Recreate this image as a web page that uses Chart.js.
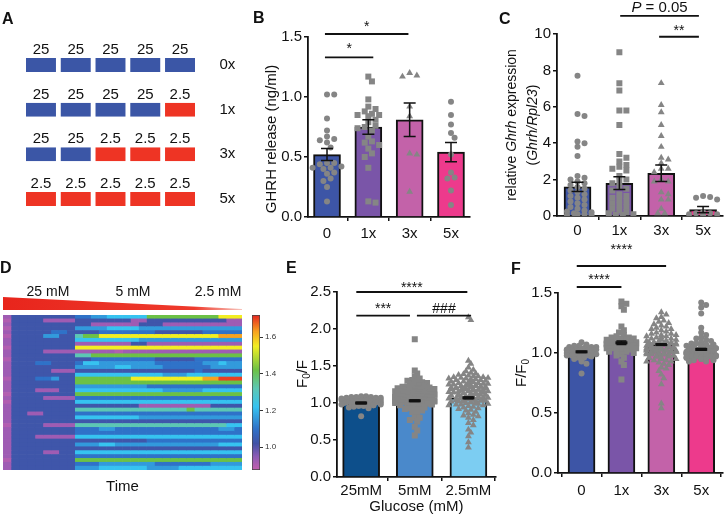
<!DOCTYPE html>
<html>
<head>
<meta charset="utf-8">
<title>GHRH figure</title>
<script src="https://cdn.jsdelivr.net/npm/chart.js@4.4.1/dist/chart.umd.min.js"></script>
<style>
  body { margin: 0; width: 727px; height: 519px; position: relative; overflow: hidden; background: #fff;
         font-family: "Liberation Sans", Arial, sans-serif; }
  canvas { position: absolute; }
  .tag { position: absolute; font-size: 16px; line-height: 16px; font-weight: bold; color: #111; }
</style>
</head>
<body>
<canvas id="chartA" width="240" height="260" style="left:0;top:0"></canvas>
<canvas id="chartB" width="240" height="260" style="left:240px;top:0"></canvas>
<canvas id="chartC" width="247" height="242" style="left:480px;top:0"></canvas>
<canvas id="chartD" width="245" height="259" style="left:0;top:260px"></canvas>
<canvas id="chartDbar" width="50" height="190" style="left:240px;top:300px"></canvas>
<canvas id="chartE" width="240" height="259" style="left:260px;top:260px"></canvas>
<canvas id="chartF" width="227" height="279" style="left:500px;top:240px"></canvas>
<div class="tag" style="left:2px;top:11px">A</div>
<div class="tag" style="left:253px;top:10px">B</div>
<div class="tag" style="left:499px;top:11px">C</div>
<div class="tag" style="left:0;top:260px">D</div>
<div class="tag" style="left:286px;top:260px">E</div>
<div class="tag" style="left:511px;top:261px">F</div>
<script>
// ---- data ----
const aRows = ['0x', '1x', '3x', '5x'];
const aPulses = [
  [25, 25, 25, 25, 25],
  [25, 25, 25, 25, 2.5],
  [25, 25, 2.5, 2.5, 2.5],
  [2.5, 2.5, 2.5, 2.5, 2.5]
];

const pulseCats = ['0', '1x', '3x', '5x'];

// B: GHRH release (ng/ml)
const bMeans = [0.52, 0.75, 0.81, 0.54];
const bSem = [0.05, 0.06, 0.14, 0.08];
const b0 = [1.02, 1.02, 0.82, 0.72, 0.67, 0.65, 0.64, 0.62, 0.58, 0.45, 0.45, 0.44, 0.42, 0.41, 0.41, 0.40, 0.37, 0.36, 0.32, 0.30, 0.25, 0.13];
const b1 = [1.17, 1.13, 0.98, 0.92, 0.90, 0.88, 0.86, 0.85, 0.85, 0.84, 0.81, 0.79, 0.76, 0.75, 0.74, 0.72, 0.67, 0.63, 0.62, 0.60, 0.57, 0.53, 0.50, 0.41, 0.13, 0.12];
const b3 = [1.20, 1.18, 1.17, 0.92, 0.84, 0.53, 0.52, 0.21];
const b5 = [0.96, 0.85, 0.77, 0.70, 0.66, 0.52, 0.37, 0.33, 0.32, 0.22, 0.10];

// C: relative Ghrh expression
const cMeans = [1.6, 1.8, 2.35, 0.35];
const cSem = [0.25, 0.35, 0.45, 0.17];
const c0 = [7.7, 5.6, 5.5, 4.1, 4.0, 3.8, 3.3, 2.2, 2.1, 2.0, 1.9, 1.8, 1.7, 1.6, 1.5, 1.4, 1.3, 1.2, 1.1, 1.0, 0.9, 0.8, 0.7, 0.6, 0.5, 0.4, 0.3, 0.25, 0.2, 0.15, 0.1, 0.1, 0.05, 0.05];
const c1 = [9.0, 7.3, 6.9, 5.8, 5.8, 5.0, 3.4, 3.2, 3.0, 2.8, 2.7, 2.6, 2.5, 2.2, 2.0, 1.9, 1.8, 1.6, 1.5, 1.4, 1.2, 1.1, 1.0, 0.9, 0.8, 0.7, 0.6, 0.5, 0.4, 0.3, 0.2, 0.15, 0.1, 0.05, 0.05];
const c3 = [7.3, 6.1, 5.7, 5.0, 4.4, 3.8, 3.2, 3.1, 2.9, 2.6, 2.6, 2.4, 2.0, 1.9, 1.9, 1.3, 1.2, 0.9, 0.9, 0.4, 0.15, 0.15];
const c5 = [1.1, 1.05, 1.0, 0.9, 0.2, 0.15, 0.15, 0.1, 0.1, 0.05];

// D: calcium heat map, one run-length coded string per cell, 30 time bins
const heatRows = [
  'v1d8b2l2c5g9y3', 'p1d4v4d7v2d10v2', 'v1d10v6d3v10', 'p1d8l4c4l13', 'v1d5b2d4b7d6b5',
  'p1d4l2d2t1g2y15o3', 'v1d8c8l13', 'v1d8v7d2v12', 'p1d8y21', 'v1d4v9p1v15',
  'v1d8t2g19', 'p1d10b8d5b6', 'v1d3b2d3b1c2l7b6l2c1l2', 'v1d8l5c2l4b6l4', 'v1d5v3d15b1d5',
  'v1d8c11l3c7', 'p1d3b2l1d2g7y9o2r3', 'v1d8g21', 'v1d8l9b12', 'v1d3v3d2c11l5c5',
  'p1d8g21', 'v1d4v4b21', 'p1d8c21', 'v1d16v9d4', 'v1d8t14g1t6',
  'v1d2v2d4b21', 'v1d8c8l13', 'v1d29', 'p1d4v4t19c2', 'v1d8b3l2b13l2b1',
  'v1d8b21', 'v1d3v5c21', 'v1d17b12', 'v1d8l3c2l13c3', 'v1d29',
  'v1d4v2d2c21', 'v1d8b21', 'p1d8g21', 'v1d8b3l7b7l4', 'v1d8l3c6l4c8'
];
const heatLevels = { p: 0.90, v: 0.925, d: 1.03, b: 1.10, l: 1.16, c: 1.22, t: 1.32, g: 1.42, y: 1.55, o: 1.63, r: 1.70 };
const heatRange = [0.876, 1.72];
const colorbarTicks = [1.0, 1.2, 1.4, 1.6];
const heatPhases = ['25 mM', '5 mM', '2.5 mM'];

// E: F0/F by glucose
const eCats = ['25mM', '5mM', '2.5mM'];
const eMeans = [1.0, 1.03, 1.07];
const eSem = [0.01, 0.01, 0.012];
const e25 = [1.09, 1.09, 1.08, 1.08, 1.08, 1.07, 1.07, 1.07, 1.06, 1.06, 1.06, 1.06, 1.05, 1.05, 1.05, 1.05, 1.04, 1.04, 1.04, 1.04,
  1.03, 1.03, 1.03, 1.03, 1.02, 1.02, 1.02, 1.02, 1.01, 1.01, 1.01, 1.01, 1.00, 1.00, 1.00, 1.00, 0.99, 0.99, 0.99, 0.98,
  0.98, 0.98, 0.97, 0.97, 0.96, 0.96, 0.95, 0.94, 0.93, 0.82];
const e5 = [1.86, 1.44, 1.40, 1.36, 1.33, 1.31, 1.30, 1.29, 1.28, 1.27, 1.26, 1.25,
  1.24, 1.23, 1.22, 1.22, 1.21, 1.21, 1.20, 1.20, 1.19, 1.19, 1.18, 1.18, 1.17, 1.17, 1.17, 1.16, 1.16, 1.16,
  1.15, 1.15, 1.15, 1.14, 1.14, 1.14, 1.13, 1.13, 1.13, 1.12, 1.12, 1.12, 1.12, 1.11, 1.11, 1.11, 1.11,
  1.10, 1.10, 1.10, 1.10, 1.09, 1.09, 1.09, 1.09, 1.08, 1.08, 1.08, 1.08, 1.07, 1.07, 1.07, 1.07,
  1.06, 1.06, 1.06, 1.06, 1.05, 1.05, 1.05, 1.05, 1.04, 1.04, 1.04, 1.04, 1.03, 1.03, 1.03, 1.03,
  1.02, 1.02, 1.02, 1.02, 1.01, 1.01, 1.01, 1.00, 1.00, 1.00, 0.99, 0.99, 0.99, 0.98, 0.98, 0.97, 0.97,
  0.96, 0.95, 0.94, 0.93, 0.92, 0.91, 0.90, 0.88, 0.85, 0.80, 0.80, 0.77, 0.75, 0.68, 0.63, 0.56];
const e25b = [2.16, 2.12, 1.57, 1.53, 1.48, 1.45, 1.43, 1.41,
  1.40, 1.39, 1.38, 1.37, 1.36, 1.36, 1.35, 1.35, 1.34, 1.34, 1.33, 1.33, 1.32, 1.32, 1.31, 1.31, 1.30, 1.30,
  1.29, 1.29, 1.28, 1.28, 1.27, 1.27, 1.26, 1.26, 1.25, 1.25, 1.25, 1.24, 1.24, 1.24, 1.23, 1.23, 1.23,
  1.22, 1.22, 1.22, 1.21, 1.21, 1.21, 1.20, 1.20, 1.20, 1.19, 1.19, 1.19, 1.18, 1.18, 1.18, 1.17, 1.17, 1.17,
  1.16, 1.16, 1.16, 1.15, 1.15, 1.15, 1.14, 1.14, 1.14, 1.13, 1.13, 1.13, 1.12, 1.12, 1.12, 1.11, 1.11, 1.11,
  1.10, 1.10, 1.10, 1.09, 1.09, 1.09, 1.08, 1.08, 1.08, 1.07, 1.07, 1.07, 1.06, 1.06, 1.06, 1.05, 1.05, 1.05,
  1.04, 1.04, 1.04, 1.03, 1.03, 1.03, 1.02, 1.02, 1.02, 1.01, 1.01, 1.00, 1.00, 0.99, 0.99, 0.98, 0.98,
  0.97, 0.97, 0.96, 0.95, 0.94, 0.93, 0.92, 0.91, 0.90,
  0.88, 0.86, 0.84, 0.83, 0.82, 0.80, 0.77, 0.73, 0.70, 0.64, 0.60, 0.55, 0.47, 0.40];

// F: F/F0 by pulse number
const fMeans = [1.01, 1.085, 1.07, 1.03];
const fSem = [0.005, 0.015, 0.006, 0.008];
const f0 = [1.09, 1.07, 1.06, 1.06, 1.05, 1.05, 1.05, 1.04, 1.04, 1.04, 1.04, 1.03, 1.03, 1.03, 1.03, 1.03,
  1.02, 1.02, 1.02, 1.02, 1.02, 1.01, 1.01, 1.01, 1.01, 1.01, 1.00, 1.00, 1.00, 1.00, 1.00,
  0.99, 0.99, 0.99, 0.99, 0.98, 0.98, 0.98, 0.97, 0.97, 0.96, 0.96, 0.95, 0.93, 0.91, 0.83];
const f1 = [1.43, 1.41, 1.39, 1.36, 1.22, 1.19, 1.17, 1.15, 1.14, 1.13, 1.13, 1.12, 1.12, 1.11, 1.11, 1.11,
  1.10, 1.10, 1.10, 1.09, 1.09, 1.09, 1.09, 1.08, 1.08, 1.08, 1.08, 1.07, 1.07, 1.07, 1.07,
  1.06, 1.06, 1.06, 1.06, 1.05, 1.05, 1.05, 1.05, 1.04, 1.04, 1.04, 1.03, 1.03, 1.03, 1.02, 1.02,
  1.01, 1.01, 1.00, 0.99, 0.98, 0.96, 0.93, 0.90, 0.78];
const f3 = [1.34, 1.32, 1.30, 1.29, 1.27, 1.26, 1.25, 1.24, 1.23, 1.22, 1.21,
  1.20, 1.20, 1.19, 1.18, 1.17, 1.16, 1.16, 1.15, 1.15, 1.14, 1.14, 1.13, 1.13, 1.12, 1.12, 1.11, 1.11,
  1.10, 1.10, 1.10, 1.10, 1.09, 1.09, 1.09, 1.09, 1.08, 1.08, 1.08, 1.08, 1.07, 1.07, 1.07, 1.07, 1.06, 1.06, 1.06, 1.06,
  1.05, 1.05, 1.05, 1.05, 1.05, 1.05, 1.04, 1.04, 1.04, 1.04, 1.04, 1.04, 1.03, 1.03, 1.03, 1.03, 1.03, 1.03,
  1.02, 1.02, 1.02, 1.02, 1.02, 1.02, 1.01, 1.01, 1.01, 1.01, 1.01, 1.01, 1.00, 1.00, 1.00, 1.00, 1.00, 1.00,
  0.99, 0.99, 0.99, 0.99, 0.99, 0.98, 0.98, 0.98, 0.98, 0.97, 0.97, 0.97, 0.96, 0.96, 0.96,
  0.95, 0.95, 0.94, 0.94, 0.93, 0.93, 0.92, 0.91, 0.90,
  0.88, 0.87, 0.85, 0.82, 0.79, 0.74, 0.58, 0.54];
const f5 = [1.42, 1.40, 1.38, 1.33, 1.21, 1.17, 1.15, 1.13,
  1.12, 1.11, 1.10, 1.09, 1.08, 1.08, 1.07, 1.07, 1.06, 1.06, 1.06,
  1.05, 1.05, 1.05, 1.05, 1.04, 1.04, 1.04, 1.04, 1.03, 1.03, 1.03, 1.03,
  1.02, 1.02, 1.02, 1.02, 1.02, 1.02, 1.02, 1.01, 1.01, 1.01, 1.01, 1.01, 1.01, 1.01,
  1.00, 1.00, 1.00, 1.00, 1.00, 1.00, 1.00, 0.99, 0.99, 0.99, 0.99, 0.99, 0.99, 0.99,
  0.98, 0.98, 0.98, 0.98, 0.98, 0.98, 0.98, 0.97, 0.97, 0.97, 0.97, 0.97, 0.97,
  0.96, 0.96, 0.96, 0.95, 0.95, 0.95, 0.94, 0.94, 0.93, 0.93];

// ---- styling ----
const FONT = '"Liberation Sans", Arial, sans-serif';
const INK = '#111';
const GREY = '#858585';
const PULSE_COLORS = ['#3d55a6', '#7a55a8', '#c362a9', '#ed3a8c'];
const GLUCOSE_COLORS = ['#0d4f8b', '#4a89cb', '#7ccdf2'];
const BLUE = '#3b56a6';
const RED = '#ee3424';
const cmapStops = [0.876, 0.95, 1.02, 1.10, 1.22, 1.32, 1.42, 1.55, 1.63, 1.72];
const cmapColors = ['#c45fae', '#8c5bb5', '#4152a6', '#2f72c8', '#36c3f0', '#5cc7b4', '#6cc145', '#f2ee22', '#f7a21f', '#e52421'];

Chart.defaults.font.family = FONT;
Chart.defaults.color = INK;
Chart.defaults.animation = false;
Chart.defaults.events = [];
Chart.defaults.plugins.legend.display = false;
Chart.defaults.plugins.tooltip.enabled = false;

function hexRgb(h) {
  return [1, 3, 5].map(i => parseInt(h.slice(i, i + 2), 16));
}

function cmap(v) {
  let i = 0;
  while (i < cmapStops.length - 2 && v > cmapStops[i + 1]) i++;
  const t = Math.min(1, Math.max(0, (v - cmapStops[i]) / (cmapStops[i + 1] - cmapStops[i])));
  const a = hexRgb(cmapColors[i]), b = hexRgb(cmapColors[i + 1]);
  return 'rgb(' + a.map((x, k) => Math.round(x + (b[k] - x) * t)).join(',') + ')';
}

function decodeRow(s) {
  return s.match(/[a-z]\d+/g).flatMap(run => Array(+run.slice(1)).fill(run[0]));
}

// spread the dots of one group sideways so they don't pile up (beeswarm);
// pack < 1 lets neighbours overlap so dense groups read as one grey blob
function swarm(vals, pxX, pxY, size, maxPx, pack) {
  const placed = [];
  const offs = new Array(vals.length);
  const order = vals.map((_, i) => i).sort((a, b) => vals[b] - vals[a]);
  const step = size * 0.6 * pack;
  const near = size * 0.9 * pack;
  const n = Math.floor(maxPx / step);
  order.forEach(i => {
    const py = vals[i] * pxY;
    let best = 0, bestHits = Infinity;
    for (let k = 0; k <= 2 * n; k++) {
      const ox = (k % 2 ? 1 : -1) * Math.ceil(k / 2) * step;
      let hits = 0;
      placed.forEach(p => { if (Math.hypot(p[0] - ox, p[1] - py) < near) hits++; });
      if (hits < bestHits) { bestHits = hits; best = ox; if (!hits) break; }
    }
    placed.push([best, py]);
    offs[i] = best / pxX;
  });
  return offs;
}

function pointRadius(shape, size) {
  if (shape === 'rect') return size / Math.SQRT2;
  if (shape === 'triangle') return size * 0.66;
  return size / 2;
}

// rotated axis title made of runs with their own font (italics, subscripts)
function drawVTitle(ctx, cx, cy, parts) {
  ctx.save();
  ctx.translate(cx, cy);
  ctx.rotate(-Math.PI / 2);
  ctx.textBaseline = 'middle';
  ctx.fillStyle = INK;
  let w = 0;
  parts.forEach(p => { ctx.font = p.f; w += ctx.measureText(p.t).width; });
  let x = -w / 2;
  parts.forEach(p => { ctx.font = p.f; ctx.fillText(p.t, x, p.dy || 0); x += ctx.measureText(p.t).width; });
  ctx.restore();
}

function drawRich(ctx, cx, y, parts) {
  ctx.textBaseline = 'alphabetic';
  ctx.textAlign = 'left';
  let w = 0;
  parts.forEach(p => { ctx.font = p.f; w += ctx.measureText(p.t).width; });
  let x = cx - w / 2;
  parts.forEach(p => { ctx.font = p.f; ctx.fillText(p.t, x, y); x += ctx.measureText(p.t).width; });
}

const f15 = '15px ' + FONT, f14 = '14px ' + FONT, fi15 = 'italic 15px ' + FONT, fi14 = 'italic 14px ' + FONT, f10 = '10px ' + FONT;
const star = s => [{ t: s, f: f14 }];

// error bars, significance brackets and the y title
const annot = {
  id: 'annot',
  afterDatasetsDraw(chart, args, o) {
    const { ctx, scales: { x, y } } = chart;
    ctx.save();
    ctx.strokeStyle = INK;
    ctx.fillStyle = INK;
    o.means.forEach((m, i) => {
      const px = x.getPixelForValue(i);
      const top = y.getPixelForValue(m + o.sems[i]);
      const bot = y.getPixelForValue(m - o.sems[i]);
      ctx.lineWidth = 1.5;
      ctx.beginPath();
      ctx.moveTo(px, top); ctx.lineTo(px, bot);
      ctx.moveTo(px - o.cap, top); ctx.lineTo(px + o.cap, top);
      ctx.moveTo(px - o.cap, bot); ctx.lineTo(px + o.cap, bot);
      ctx.stroke();
      if (o.meanLine) {
        const my = y.getPixelForValue(m);
        ctx.lineWidth = 3;
        ctx.beginPath();
        ctx.moveTo(px - o.meanLine, my); ctx.lineTo(px + o.meanLine, my);
        ctx.stroke();
      }
    });
    o.brackets.forEach(b => {
      const x1 = x.getPixelForValue(b.from), x2 = x.getPixelForValue(b.to);
      const ly = y.getPixelForValue(b.y);
      ctx.lineWidth = 1.8;
      ctx.beginPath();
      ctx.moveTo(x1, ly); ctx.lineTo(x2, ly);
      ctx.stroke();
      drawRich(ctx, (x1 + x2) / 2, ly - b.gap, b.label);
    });
    o.yTitle.forEach(t => drawVTitle(ctx, t.x, t.y, t.parts));
    ctx.restore();
  }
};

function makeBarScatter(id, o) {
  const a = o.area;
  const pxX = (a.right - a.left) / (o.xMax - o.xMin);
  const pxY = (a.bottom - a.top) / o.yMax;
  const datasets = [{
    type: 'bar',
    order: 3,
    data: o.means.map((m, i) => ({ x: i, y: m })),
    backgroundColor: o.colors,
    borderColor: INK,
    borderWidth: 2,
    borderSkipped: 'start',
    barThickness: o.barPx
  }];
  o.groups.forEach((g, i) => {
    const offs = swarm(g, pxX, pxY, o.ptSize, o.barPx / 2 + o.spill, o.pack || 1);
    datasets.push({
      type: 'scatter',
      order: 2,
      data: g.map((v, k) => ({ x: i + offs[k], y: v })),
      pointStyle: o.shapes[i],
      pointRadius: pointRadius(o.shapes[i], o.ptSize),
      pointBackgroundColor: GREY,
      pointBorderWidth: 0
    });
  });
  return new Chart(document.getElementById(id), {
    type: 'bar',
    data: { datasets },
    options: {
      responsive: false,
      layout: { padding: { left: 0, top: a.top, right: o.w - a.right, bottom: 0 } },
      scales: {
        x: {
          type: 'linear', min: o.xMin, max: o.xMax, offset: false,
          afterFit: s => { s.height = o.h - a.bottom; },
          afterBuildTicks: s => { s.ticks = o.cats.map((c, i) => ({ value: i })); },
          ticks: { callback: v => o.cats[v], font: { size: 15 }, color: INK, padding: o.xPad, maxRotation: 0, autoSkip: false },
          grid: { drawOnChartArea: false, color: INK, lineWidth: 1.5, tickLength: 4 },
          border: { color: INK, width: 1.8 },
          title: o.xTitle
            ? { display: true, text: o.xTitle, font: { size: 15 }, color: INK, padding: { top: 0, bottom: o.xTitlePad } }
            : { display: false }
        },
        y: {
          min: 0, max: o.yMax,
          afterFit: s => { s.width = a.left; },
          ticks: { stepSize: o.yStep, callback: o.fmt, font: { size: 15 }, color: INK, padding: 2 },
          grid: { drawOnChartArea: false, color: INK, lineWidth: 1.5, tickLength: 4 },
          border: { color: INK, width: 1.8 }
        }
      },
      plugins: {
        annot: { means: o.means, sems: o.sems, cap: o.cap, meanLine: o.meanLine, brackets: o.brackets, yTitle: o.yTitle }
      }
    },
    plugins: [annot]
  });
}

// ---- A: pulse scheme ----
const pulseText = {
  id: 'pulseText',
  afterDatasetsDraw(chart) {
    const ctx = chart.ctx;
    ctx.save();
    ctx.font = f15;
    ctx.fillStyle = INK;
    ctx.textAlign = 'center';
    ctx.textBaseline = 'middle';
    chart.data.datasets.forEach((ds, p) => {
      chart.getDatasetMeta(p).data.forEach((el, r) => {
        ctx.fillText(String(aPulses[r][p]), (el.x + el.base) / 2, el.y - 15);
      });
    });
    ctx.restore();
  }
};

new Chart(document.getElementById('chartA'), {
  type: 'bar',
  data: {
    labels: aRows,
    datasets: aPulses[0].map((_, p) => ({
      data: aRows.map(() => [p, p + 1]),
      backgroundColor: aPulses.map(row => (row[p] > 10 ? BLUE : RED)),
      borderColor: '#fff',
      borderWidth: { left: 2.4, right: 2.4, top: 0, bottom: 0 },
      borderSkipped: false,
      grouped: false,
      barPercentage: 0.313,
      categoryPercentage: 1
    }))
  },
  options: {
    indexAxis: 'y',
    responsive: false,
    layout: { padding: { left: 23.6, top: 42.7, bottom: 38.7, right: 0 } },
    scales: {
      x: { display: false, min: 0, max: aPulses[0].length },
      y: {
        position: 'right',
        afterFit: s => { s.width = 42.6; },
        grid: { display: false },
        border: { display: false },
        ticks: { font: { size: 15 }, color: INK, padding: 14 }
      }
    }
  },
  plugins: [pulseText]
});

// ---- B ----
makeBarScatter('chartB', {
  w: 240, h: 260, area: { left: 68, top: 37, right: 230, bottom: 217 },
  xMin: -0.46, xMax: 3.46, yMax: 1.5, yStep: 0.5, fmt: v => v.toFixed(1), xPad: 4,
  cats: pulseCats, means: bMeans, sems: bSem, groups: [b0, b1, b3, b5],
  colors: PULSE_COLORS, shapes: ['circle', 'rect', 'triangle', 'circle'],
  barPx: 27, ptSize: 6, spill: 1, cap: 6,
  brackets: [
    { from: -0.05, to: 1.12, y: 1.33, label: star('*'), gap: 4 },
    { from: -0.05, to: 1.97, y: 1.525, label: star('*'), gap: 3 }
  ],
  yTitle: [{ x: 32, y: 139, parts: [{ t: 'GHRH release (ng/ml)', f: f15 }] }]
});

// ---- C ----
makeBarScatter('chartC', {
  w: 247, h: 242, area: { left: 77, top: 34, right: 247, bottom: 216 },
  xMin: -0.49, xMax: 3.47, yMax: 10, yStep: 2, fmt: v => String(v), xPad: 2,
  cats: pulseCats, means: cMeans, sems: cSem, groups: [c0, c1, c3, c5],
  colors: PULSE_COLORS, shapes: ['circle', 'rect', 'triangle', 'circle'],
  barPx: 27, ptSize: 6, spill: 1, cap: 6,
  brackets: [
    { from: 1.02, to: 2.9, y: 11.0, label: [{ t: 'P', f: fi15 }, { t: ' = 0.05', f: f15 }], gap: 4 },
    { from: 1.95, to: 2.9, y: 9.85, label: star('**'), gap: 2 }
  ],
  yTitle: [
    { x: 32, y: 125, parts: [{ t: 'relative ', f: f14 }, { t: 'Ghrh', f: fi14 }, { t: ' expression', f: f14 }] },
    { x: 53, y: 125, parts: [{ t: '(', f: f14 }, { t: 'Ghrh/Rpl23', f: fi14 }, { t: ')', f: f14 }] }
  ]
});

// ---- D: heat map ----
const heatCells = heatRows.map(decodeRow);
const heatDecor = {
  id: 'heatDecor',
  afterDraw(chart) {
    const { ctx, chartArea: { left, right, top } } = chart;
    ctx.save();
    const g = ctx.createLinearGradient(left, 0, right, 0);
    g.addColorStop(0, '#e8251c');
    g.addColorStop(0.8, '#ee3a2c');
    g.addColorStop(1, '#f8c4bc');
    ctx.fillStyle = g;
    ctx.beginPath();
    ctx.moveTo(left, top - 18);
    ctx.lineTo(right, top - 6);
    ctx.lineTo(right, top - 5);
    ctx.lineTo(left, top - 5);
    ctx.closePath();
    ctx.fill();
    ctx.fillStyle = INK;
    ctx.font = f14;
    ctx.textAlign = 'center';
    ctx.textBaseline = 'middle';
    [0.188, 0.544, 0.9].forEach((f, i) => ctx.fillText(heatPhases[i], left + f * (right - left), top - 23));
    ctx.restore();
  }
};

new Chart(document.getElementById('chartD'), {
  type: 'bar',
  data: {
    labels: heatCells.map((_, r) => r),
    datasets: heatCells[0].map((_, c) => ({
      data: heatCells.map(() => [c, c + 1]),
      backgroundColor: heatCells.map(row => cmap(heatLevels[row[c]])),
      borderWidth: 0,
      grouped: false,
      barPercentage: 1,
      categoryPercentage: 1
    }))
  },
  options: {
    indexAxis: 'y',
    responsive: false,
    layout: { padding: { left: 3, right: 3, top: 55, bottom: 0 } },
    scales: {
      x: {
        min: 0, max: heatCells[0].length,
        afterFit: s => { s.height = 49; },
        grid: { display: false }, border: { display: false }, ticks: { display: false },
        title: { display: true, text: 'Time', font: { size: 15 }, color: INK, padding: { top: 0, bottom: 23 } }
      },
      y: { display: false }
    }
  },
  plugins: [heatDecor]
});

// colour bar of the heat map
new Chart(document.getElementById('chartDbar'), {
  type: 'bar',
  data: {
    labels: [''],
    datasets: [{
      data: [heatRange],
      backgroundColor: c => {
        const area = c.chart.chartArea;
        if (!area) return '#888';
        const g = c.chart.ctx.createLinearGradient(0, area.bottom, 0, area.top);
        cmapStops.forEach((v, i) => g.addColorStop((v - heatRange[0]) / (heatRange[1] - heatRange[0]), cmapColors[i]));
        return g;
      },
      borderColor: '#444',
      borderWidth: 1,
      borderSkipped: false,
      barPercentage: 1,
      categoryPercentage: 1
    }]
  },
  options: {
    responsive: false,
    layout: { padding: { left: 12, top: 15, bottom: 20, right: 0 } },
    scales: {
      x: { display: false },
      y: {
        position: 'right', min: heatRange[0], max: heatRange[1],
        afterFit: s => { s.width = 30; },
        afterBuildTicks: s => { s.ticks = colorbarTicks.map(v => ({ value: v })); },
        ticks: { font: { size: 8 }, color: '#333', padding: 2, callback: v => v.toFixed(1) },
        grid: { drawOnChartArea: false, tickLength: 3, color: '#333' },
        border: { display: false }
      }
    }
  }
});

// ---- E ----
makeBarScatter('chartE', {
  w: 240, h: 259, area: { left: 77, top: 32, right: 240, bottom: 217 },
  xMin: -0.45, xMax: 2.51, yMax: 2.5, yStep: 0.5, fmt: v => v.toFixed(1), xPad: 1,
  xTitle: 'Glucose (mM)', xTitlePad: 3.6,
  cats: eCats, means: eMeans, sems: eSem, groups: [e25, e5, e25b],
  colors: GLUCOSE_COLORS, shapes: ['circle', 'rect', 'triangle'],
  barPx: 37, ptSize: 6, spill: 3, pack: 0.7, cap: 5, meanLine: 6,
  brackets: [
    { from: -0.09, to: 1.98, y: 2.5, label: star('****'), gap: 0 },
    { from: -0.09, to: 0.91, y: 2.18, label: star('***'), gap: 3 },
    { from: 1.04, to: 2.05, y: 2.18, label: star('###'), gap: 3 }
  ],
  yTitle: [{ x: 43, y: 114, parts: [{ t: 'F', f: f15 }, { t: '0', f: f10, dy: 4 }, { t: '/F', f: f15 }] }]
});

// ---- F ----
makeBarScatter('chartF', {
  w: 227, h: 279, area: { left: 58, top: 53, right: 227, bottom: 233 },
  xMin: -0.59, xMax: 3.54, yMax: 1.5, yStep: 0.5, fmt: v => v.toFixed(1), xPad: 5,
  cats: pulseCats, means: fMeans, sems: fSem, groups: [f0, f1, f3, f5],
  colors: PULSE_COLORS, shapes: ['circle', 'rect', 'triangle', 'circle'],
  barPx: 27, ptSize: 6, spill: 2, pack: 0.7, cap: 5, meanLine: 6,
  brackets: [
    { from: -0.12, to: 1.0, y: 1.55, label: star('****'), gap: 3 },
    { from: -0.12, to: 2.12, y: 1.725, label: star('****'), gap: 12 }
  ],
  yTitle: [{ x: 22, y: 133, parts: [{ t: 'F/F', f: f15 }, { t: '0', f: f10, dy: 4 }] }]
});
</script>
</body>
</html>
